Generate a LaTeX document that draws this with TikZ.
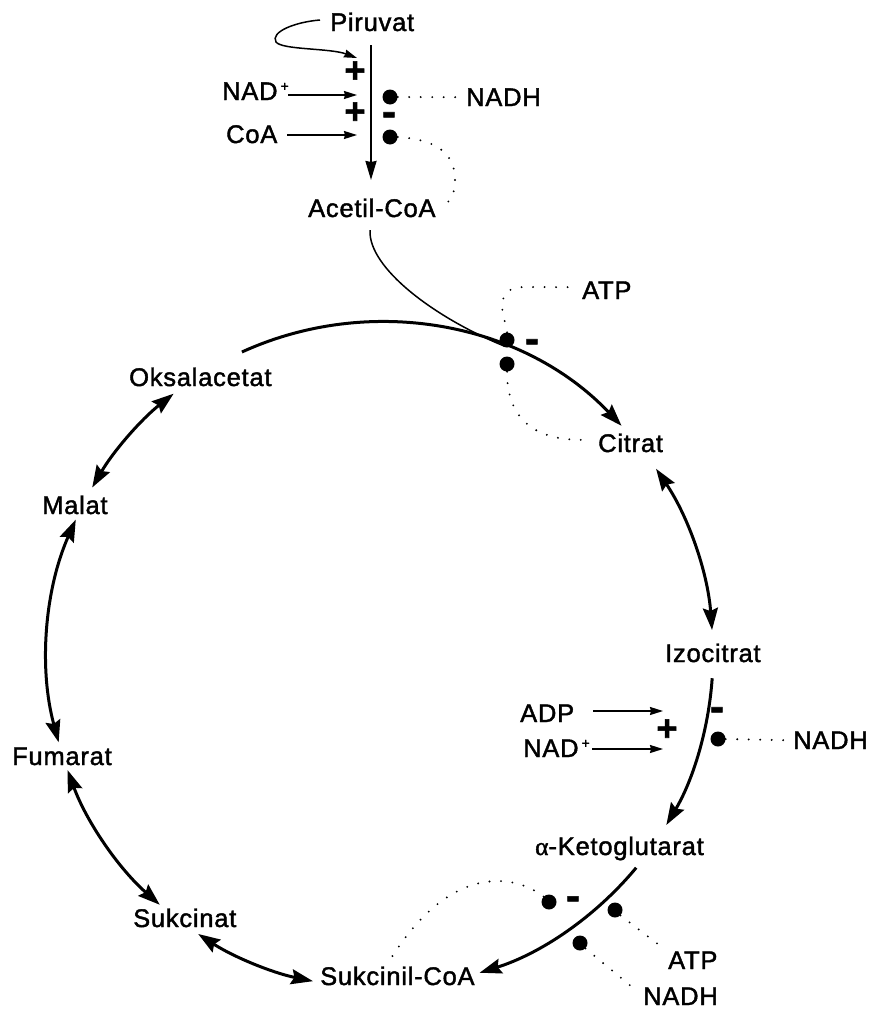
\documentclass[tikz,border=0pt]{standalone}
\usepackage{fontspec}
\setmainfont[LetterSpace=3,FakeBold=1.6]{Liberation Sans}
\newfontfamily\greekfont[FakeBold=1.6]{Liberation Serif}
\newfontfamily\signfont[FakeBold=1.5]{Liberation Sans Bold}
\usetikzlibrary{arrows.meta,calc}
\newcommand{\plussup}{\hspace{3pt}\raisebox{9pt}{\fontsize{14}{14}\selectfont +}}
\begin{document}
\begin{tikzpicture}[x=1pt,y=1pt,
  lbl/.style={inner sep=0pt, anchor=base west, font=\fontsize{25.5}{30}\selectfont},
  dot/.style={circle, fill=black, inner sep=0pt, minimum size=15pt},
  sign/.style={inner sep=0pt, font=\signfont\fontsize{36}{36}\selectfont},
  minus/.style={inner sep=0pt, font=\signfont\fontsize{42}{42}\selectfont},
  cyc/.style={line width=3pt},
  one/.style={-{Stealth[length=22pt,width=15pt,inset=3pt]}},
  two/.style={{Stealth[length=22pt,width=15pt,inset=3pt]}-{Stealth[length=22pt,width=15pt,inset=3pt]}},
  thinarrow/.style={line width=1.6pt, -{Stealth[length=13pt,width=8pt,inset=1pt]}},
  thinline/.style={line width=1.5pt},
  dotline/.style={line width=2.1pt, line cap=round, dash pattern=on 0pt off 11.5pt},
]
\useasboundingbox[fill=white] (0,0) rectangle (872,-1009);

% --- metabolite and effector labels ---
\node[lbl] (piruvat)  at (330,-31)   {Piruvat};
\node[lbl] (nadA)     at (222,-100)  {NAD\plussup};
\node[lbl] (coaA)     at (226,-143)  {CoA};
\node[lbl] (nadhA)    at (466,-106)  {NADH};
\node[lbl] (acetil)   at (308,-217)  {Acetil-CoA};
\node[lbl] (atpA)     at (582,-299)  {ATP};
\node[lbl] (oksal)    at (129,-386)  {Oksalacetat};
\node[lbl] (citrat)   at (598,-452)  {Citrat};
\node[lbl] (malat)    at (42,-514)   {Malat};
\node[lbl] (izo)      at (665,-662)  {Izocitrat};
\node[lbl] (adp)      at (520,-722)  {ADP};
\node[lbl] (nadB)     at (523,-757)  {NAD\plussup};
\node[lbl] (nadhB)    at (793,-749)  {NADH};
\node[lbl] (fumarat)  at (12,-765)   {Fumarat};
\node[lbl] (akg)      at (535,-855)  {{\greekfont α}-Ketoglutarat};
\node[lbl] (sukcinat) at (133,-927)  {Sukcinat};
\node[lbl] (sukcoa)   at (320,-985)  {Sukcinil-CoA};
\node[lbl] (atpB)     at (668,-969)  {ATP};
\node[lbl] (nadhC)    at (643,-1005) {NADH};

% --- pyruvate dehydrogenase step ---
\coordinate (pdhTop) at (371,-45);
\coordinate (pdhEnd) at (371,-180);
\draw[line width=2pt, -{Stealth[length=19pt,width=11pt,inset=1pt]}] (pdhTop) -- (pdhEnd);
\coordinate (loopA) at (320,-20);
\coordinate (loopB) at (276,-42);
\coordinate (loopC) at (357,-58);
\draw[thinline, -{Stealth[length=13pt,width=8pt,inset=1pt]}]
  (loopA) .. controls (295,-22) and (270,-32) .. (loopB)
          .. controls (282,-50) and (330,-48) .. (loopC);
\node[sign]  (plusA) at (355,-72)  {+};
\node[sign]  (plusB) at (355,-113) {+};
\node[minus] (minA)  at (389,-119) {-};
\node[dot]   (dA) at (390,-97)  {};
\node[dot]   (dB) at (390,-137) {};
\coordinate (nadAo) at (288,-95);  \coordinate (nadAt) at (357,-95);
\coordinate (coaAo) at (287,-135); \coordinate (coaAt) at (357,-135);
\draw[thinarrow] (nadAo) -- (nadAt);
\draw[thinarrow] (coaAo) -- (coaAt);
\draw[dotline] (dA.east) -- ([xshift=-8pt]nadhA.west);
\draw[dotline] (dB.east) .. controls (445,-140) and (455,-160) .. (455,-180)
               .. controls (455,-190) .. (447,-204);

% --- the cycle ---
\coordinate (cc) at (380,-655);
\def\R{333}
\coordinate (c1) at ($(cc)+(114.5:\R)$);
\coordinate (c2) at ($(cc)+(34.0:\R)$);
\coordinate (c3) at ($(cc)+(-4.0:\R)$);
\coordinate (c4) at ($(cc)+(-39.7:\R)$);
\coordinate (c5) at ($(cc)+(-101.6:\R)$);
\coordinate (c6) at ($(cc)+(-131.4:\R)$);
\coordinate (c7) at ($(cc)+(-164.8:\R)$);
\coordinate (c8) at ($(cc)+(149.8:\R)$);
\draw[cyc,one] (c1) arc[start angle=114.5, end angle=43.5,  radius=\R];
\draw[cyc,two] (c2) arc[start angle=34.0,  end angle=4.3,   radius=\R];
\draw[cyc,one] (c3) arc[start angle=-4.0,  end angle=-30.7, radius=\R];
\draw[cyc,one] (c4) arc[start angle=-39.7, end angle=-72.6, radius=\R];
\draw[cyc,two] (c5) arc[start angle=-101.6,end angle=-123.1,radius=\R];
\draw[cyc,two] (c6) arc[start angle=-131.4,end angle=-159.8,radius=\R];
\draw[cyc,two] (c7) arc[start angle=-164.8,end angle=-204.0,radius=\R];
\draw[cyc,two] (c8) arc[start angle=149.8, end angle=128.3, radius=\R];

% acetyl-CoA joining the cycle
\coordinate (acIn) at (370,-230);
\coordinate (acJoin) at ($(cc)+(68:\R)$);
\draw[thinline] (acIn) .. controls (368,-268) and (435,-318) .. (acJoin);

% citrate synthase inhibition
\node[dot]   (dC) at (507,-340) {};
\node[dot]   (dD) at (507,-364) {};
\node[minus] (minC) at (532,-346) {-};
\draw[dotline] (dC.north) -- (502,-308) .. controls (502,-292) and (510,-287) .. (525,-287)
               -- ([xshift=-7pt,yshift=3pt]atpA.west);
\draw[dotline] (dD.south) .. controls (507,-410) and (525,-440) .. ([xshift=-16pt,yshift=3pt]citrat.west);

% isocitrate dehydrogenase regulation
\node[sign]  (plusI) at (667,-730) {+};
\node[minus] (minI)  at (717,-714) {-};
\node[dot]   (dI) at (718,-739) {};
\coordinate (adpO) at (593,-711); \coordinate (adpT) at (663,-711);
\coordinate (nadBo) at (592,-749); \coordinate (nadBt) at (663,-749);
\draw[thinarrow] (adpO) -- (adpT);
\draw[thinarrow] (nadBo) -- (nadBt);
\draw[dotline] (dI.east) -- ([xshift=-8pt]nadhB.west);

% alpha-ketoglutarate dehydrogenase inhibition
\node[dot]   (dK1) at (549,-902) {};
\node[minus] (minK) at (573,-903) {-};
\node[dot]   (dK2) at (615,-910) {};
\node[dot]   (dK3) at (580,-943) {};
\draw[dotline] (dK1.north west) .. controls (512,-872) and (448,-866) .. (390,-960);
\draw[dotline] (dK2.south east) -- (663,-948);
\draw[dotline] (dK3.south east) -- (632,-987);
\end{tikzpicture}
\end{document}
